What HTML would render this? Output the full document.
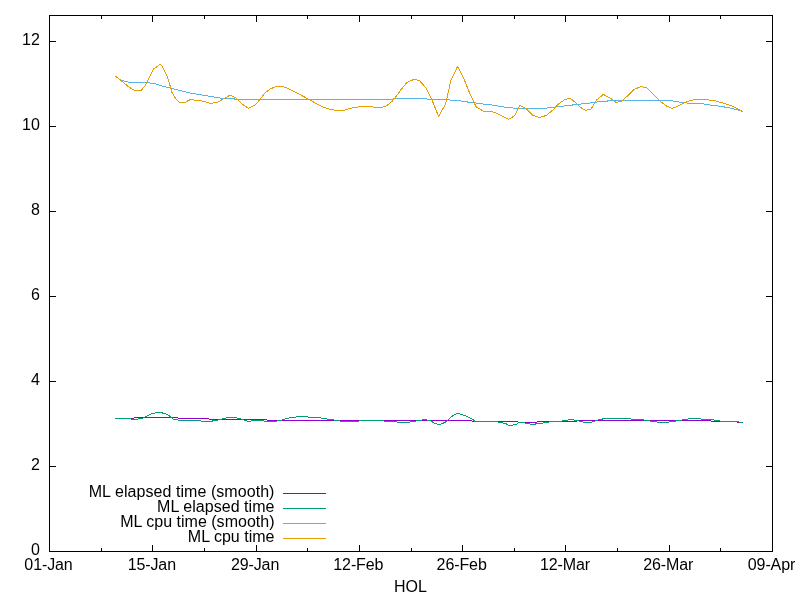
<!DOCTYPE html>
<html><head><meta charset="utf-8"><title>HOL</title>
<style>
html,body{margin:0;padding:0;background:#fff;}
svg{display:block;}
text{font-family:"Liberation Sans",sans-serif;font-size:16px;fill:#000;}
</style></head><body>
<svg width="800" height="600" viewBox="0 0 800 600">
<rect width="800" height="600" fill="#fff"/>
<g fill="none" stroke-width="1" stroke-linejoin="bevel" stroke-linecap="butt" shape-rendering="crispEdges">
<polyline stroke="#9400d3" points="115,418.5 133,418.5 135,417.5 177,417.5 179,418.5 208,418.5 210,419.5 266,419.5 268,420.5 471,420.5 473,421.5 517,421.5 519,422.5 536,422.5 538,421.5 576,421.5 578,420.5 710,420.5 712,421.5 736.5,421.5 738.5,422.5 742.75,422.5"/>
<polyline stroke="#009e73" points="115,418.5 130,418.5 132,419.5 137,419.5 139,418.5 142,418.5 144,417.5 146,416.5 147.5,415.5 152.5,413.5 157.5,412.6 161,412.6 165,413.7 168.75,415.5 171.25,417.5 173,418.8 174,419.5 177,419.5 179,420.5 200,420.5 202,421.5 211.5,421.5 213.5,420.5 217,420.5 219,419.5 221,419.5 223,418.5 225,418.5 227,417.5 236,417.5 238,418.5 239.6,418.5 241.6,419.5 243,419.5 245,420.5 246,420.5 248,421.5 250,421.5 252,420.5 263,420.5 265,421.5 276,421.5 278,420.5 281,420.5 283,419.5 284,419.5 286,418.5 288,418.5 290,417.5 295,417.5 297,416.5 307,416.5 309,417.5 319.6,417.5 321.6,418.5 326,418.5 328,419.5 333,419.5 335,420.5 339,420.5 341,421.5 358,421.5 360,420.5 383,420.5 385,421.5 396,421.5 398,422.5 409,422.5 411,421.5 415,421.5 417,420.5 421,420.5 423,419.5 426,419.5 428,420.5 430,420.5 432,421.5 434,423 437.5,424.3 440,424.5 442.5,423.5 445.6,422 448,420 451,417 455,414.2 458.75,413.5 462.5,414.8 467.5,416.6 472,418.8 474,420.5 475,421.5 497,421.5 499,422.5 502,422.5 504,423.5 506,423.5 508,425.1 509.6,425.1 511.6,425.1 513,425.1 515,424 517,424 519,422.5 521,422.5 523,422.8 524.6,422.8 526.6,423.5 529,423.5 531,424.5 534.6,424.5 536.6,423.5 542,423.5 544,422.5 547.75,422.5 549.75,421.5 561,421.5 563,420.5 567,420.5 569,419.5 573,419.5 575,420.5 578,420.5 580,421.5 582,421.5 584,422.5 591,422.5 593,421.5 594,421.5 596,420.5 597,420.5 599,419.5 601.5,419.5 603.5,418.5 629.6,418.5 631.6,419.5 643,419.5 645,420.5 649,420.5 651,421.5 656,421.5 658,422.5 668,422.5 670,421.5 674.6,421.5 676.6,420.5 681,420.5 683,419.5 687,419.5 689,418.5 699.6,418.5 701.6,419.5 713,419.5 715,420.5 719,420.5 721,421.5 737.75,421.5 739.75,422.5 742.75,422.5"/>
<polyline stroke="#56b4e9" points="115,76 117,77.6 122,80.6 130,82.4 143,82.4 154,83.4 160,85.4 170,88 180,90.4 190,93 200,94.6 210,96.4 220,98 222,98.5 234,98.5 235,99.5 390,99.5 392.5,99.5 393.5,98.5 426.5,98.5 427.5,99.5 449.2,99.5 450.2,100.5 460.7,100.5 461.7,101.5 467,101.5 468,102.5 475.7,102.5 476.7,103.5 490,104.6 504,107 516,108.4 544,108.4 550,107.6 564,106 576,104.6 590,103 602,101.4 616,100.4 670,100.4 676,101.6 686,103 700,103.4 710,105 720,106.2 730,108 738,110 742.6,111.6"/>
<polyline stroke="#e69f00" points="115,76 120,79.6 128,86.4 134.4,90.4 141.4,90.4 145.6,85 150,76 153.6,69 160,64.4 162,66 167,76 169,82 172,92.4 176,99 179.4,102.4 185,102.4 191,99.2 195,100.2 200,100.4 206,102 210.6,103.6 218,102 224,98.6 230,95.2 235.6,97.6 242,104 248.4,108.2 255,105 260,99.6 265,93 270,89 275,87 280,86.4 286,87.4 292,90.4 300,94.6 308,99 316,103.4 324,107.4 330,109.4 336,110.4 344,110.4 350,108.4 356,107.4 362,106.4 370,106.4 375,107.4 382,107.4 387,105.6 392,101.4 396,96.6 401,89.6 407,82.4 414,79.4 419.4,80.6 426,88 432,100 438.6,116.4 445.6,104 451,80 457.6,66.4 464,79 470,94 476,106.6 483,111 491,111.4 496,113 502,116 508.6,119.4 514.6,115.6 520,105.4 526,108.4 533,115.4 539.4,117.4 546,115.6 554,109 558,104.4 565,99.4 570.6,98.4 576,103 582,108.6 585.6,110.4 591,109 597,99.6 603.4,94.4 610,98 616,102.4 622,101 628,95.4 634,89.6 641,86.4 647,88 654,95 660,101 667,106.4 672.4,108.4 678,106 684,103 690,100.6 697,99.4 705,99.4 716,101 724,103.4 732,106 738,109 742.6,111.6"/>
<path d="M283 493.5 H326" stroke="#9400d3"/><path d="M283 508.5 H326" stroke="#009e73"/><path d="M283 523.5 H326" stroke="#56b4e9"/><path d="M283 538.5 H326" stroke="#e69f00"/>
<path stroke="#000" d="M101.14 551.5 v-3.5 M101.14 15.5 v3.5 M152.79 551.5 v-6.5 M152.79 15.5 v6.5 M204.43 551.5 v-3.5 M204.43 15.5 v3.5 M256.07 551.5 v-6.5 M256.07 15.5 v6.5 M307.71 551.5 v-3.5 M307.71 15.5 v3.5 M359.36 551.5 v-6.5 M359.36 15.5 v6.5 M411.00 551.5 v-3.5 M411.00 15.5 v3.5 M462.64 551.5 v-6.5 M462.64 15.5 v6.5 M514.29 551.5 v-3.5 M514.29 15.5 v3.5 M565.93 551.5 v-6.5 M565.93 15.5 v6.5 M617.57 551.5 v-3.5 M617.57 15.5 v3.5 M669.21 551.5 v-6.5 M669.21 15.5 v6.5 M720.86 551.5 v-3.5 M720.86 15.5 v3.5 M49.5 466.5 h6.5 M772.5 466.5 h-6.5 M49.5 381.5 h6.5 M772.5 381.5 h-6.5 M49.5 296.5 h6.5 M772.5 296.5 h-6.5 M49.5 211.5 h6.5 M772.5 211.5 h-6.5 M49.5 126.5 h6.5 M772.5 126.5 h-6.5 M49.5 41.5 h6.5 M772.5 41.5 h-6.5"/>
<rect stroke="#000" stroke-linejoin="miter" x="49.5" y="15.5" width="723" height="536"/>
</g>
<text x="48.50" y="569.8" text-anchor="middle" letter-spacing="-0.1">01-Jan</text><text x="151.79" y="569.8" text-anchor="middle" letter-spacing="-0.1">15-Jan</text><text x="255.07" y="569.8" text-anchor="middle" letter-spacing="-0.1">29-Jan</text><text x="358.36" y="569.8" text-anchor="middle" letter-spacing="-0.1">12-Feb</text><text x="461.64" y="569.8" text-anchor="middle" letter-spacing="-0.1">26-Feb</text><text x="564.93" y="569.8" text-anchor="middle" letter-spacing="-0.1">12-Mar</text><text x="668.21" y="569.8" text-anchor="middle" letter-spacing="-0.1">26-Mar</text><text x="771.50" y="569.8" text-anchor="middle" letter-spacing="-0.1">09-Apr</text>
<text x="39.8" y="554.7" text-anchor="end">0</text><text x="39.8" y="469.7" text-anchor="end">2</text><text x="39.8" y="384.7" text-anchor="end">4</text><text x="39.8" y="299.7" text-anchor="end">6</text><text x="39.8" y="214.7" text-anchor="end">8</text><text x="39.8" y="129.7" text-anchor="end">10</text><text x="39.8" y="44.7" text-anchor="end">12</text>
<text x="274.5" y="496.7" text-anchor="end" letter-spacing="0.06">ML elapsed time (smooth)</text><text x="274.5" y="511.7" text-anchor="end" letter-spacing="0.04">ML elapsed time</text><text x="274.5" y="526.7" text-anchor="end" letter-spacing="0.01">ML cpu time (smooth)</text><text x="274.5" y="541.7" text-anchor="end" letter-spacing="0.01">ML cpu time</text>
<text x="410.5" y="591.5" text-anchor="middle">HOL</text>
</svg>
</body></html>
